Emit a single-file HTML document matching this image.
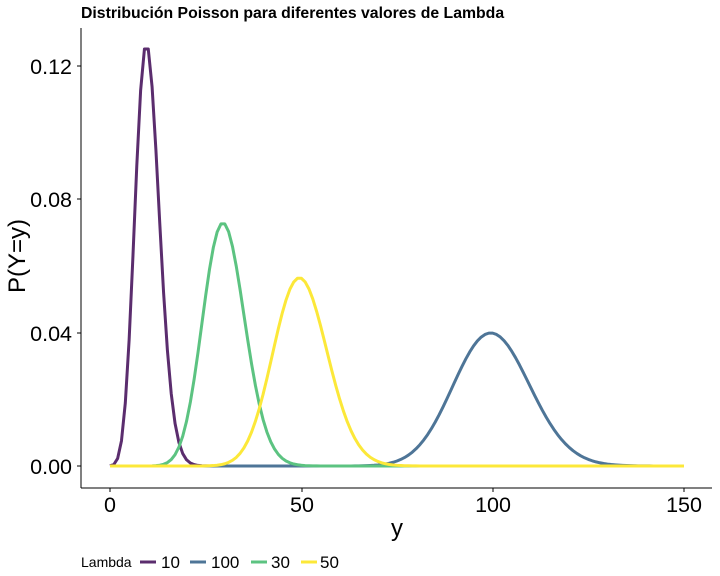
<!DOCTYPE html>
<html><head><meta charset="utf-8"><style>
html,body{margin:0;padding:0;background:#fff;}
svg{display:block;font-family:"Liberation Sans",sans-serif;}
</style></head><body>
<svg id="s" width="720" height="576" viewBox="0 0 720 576">
<rect width="720" height="576" fill="#fff"/>
<text x="81" y="18" font-size="15.8" font-weight="bold" fill="#000">Distribución Poisson para diferentes valores de Lambda</text>
<line x1="81" y1="28" x2="81" y2="488" stroke="#000" stroke-width="1"/>
<line x1="81" y1="488" x2="712" y2="488" stroke="#000" stroke-width="1"/>
<g font-size="21.5" fill="#000" text-anchor="end">
<text x="72" y="474">0.00</text>
<text x="72" y="341">0.04</text>
<text x="72" y="207">0.08</text>
<text x="72" y="74">0.12</text>
</g>
<g stroke="#000" stroke-width="1">
<line x1="77" y1="466" x2="81" y2="466"/><line x1="77" y1="333" x2="81" y2="333"/>
<line x1="77" y1="199" x2="81" y2="199"/><line x1="77" y1="66" x2="81" y2="66"/>
<line x1="110" y1="488" x2="110" y2="492"/><line x1="302" y1="488" x2="302" y2="492"/>
<line x1="493" y1="488" x2="493" y2="492"/><line x1="684" y1="488" x2="684" y2="492"/>
</g>
<g font-size="21.5" fill="#000" text-anchor="middle">
<text x="110" y="512">0</text><text x="302" y="512">50</text>
<text x="493" y="512">100</text><text x="684" y="512">150</text>
<text x="397" y="536" font-size="24">y</text>
</g>
<text transform="translate(25,256) rotate(-90)" font-size="24" text-anchor="middle">P(Y=y)</text>
<g id="lines" fill="none" stroke-width="3" stroke-linejoin="round"></g>
<g font-size="14">
<text x="81" y="567">Lambda</text>
<line x1="140" y1="562" x2="156" y2="562" stroke="#5b2d6e" stroke-width="3"/>
<text x="161" y="568" font-size="17">10</text>
<line x1="190" y1="562" x2="206" y2="562" stroke="#4e7597" stroke-width="3"/>
<text x="211" y="568" font-size="17">100</text>
<line x1="251" y1="562" x2="267" y2="562" stroke="#5cc381" stroke-width="3"/>
<text x="271" y="568" font-size="17">30</text>
<line x1="301" y1="562" x2="317" y2="562" stroke="#fce839" stroke-width="3"/>
<text x="320" y="568" font-size="17">50</text>
</g>
</svg>
<script>
function pois(k,l){var lg=-l+k*Math.log(l);for(var i=2;i<=k;i++)lg-=Math.log(i);return Math.exp(lg);}
var series=[[10,"#5b2d6e"],[100,"#4e7597"],[30,"#5cc381"],[50,"#fce839"]];
var g=document.getElementById("lines");
series.forEach(function(s){
 var d="";for(var k=0;k<=150;k++){var x=110+k*3.8267,y=466-pois(k,s[0])*3333.3;d+=(k?"L":"M")+x.toFixed(2)+","+y.toFixed(2);}
 var p=document.createElementNS("http://www.w3.org/2000/svg","path");
 p.setAttribute("d",d);p.setAttribute("stroke",s[1]);g.appendChild(p);
});
</script>
</body></html>
